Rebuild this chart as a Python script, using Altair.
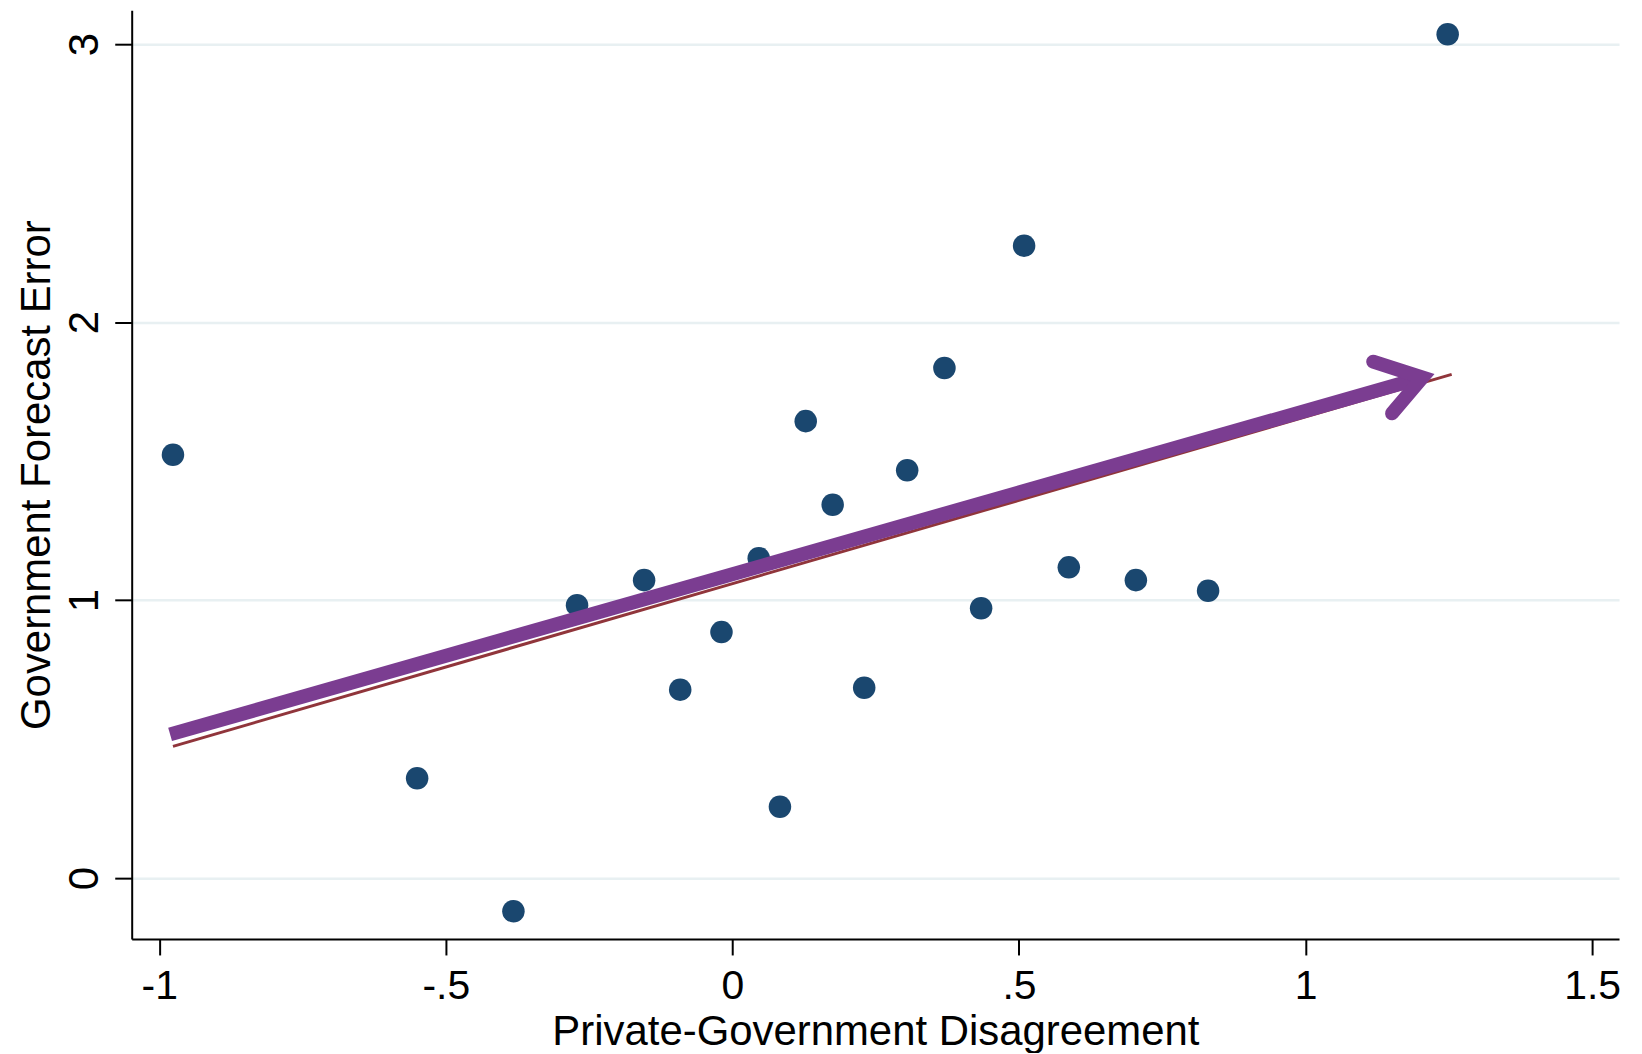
import altair as alt
import pandas as pd

# Scatter data
x_vals = [-0.976, -0.550, -0.382, -0.271, -0.154, -0.091, -0.019, 0.046, 0.083, 0.128,
          0.175, 0.230, 0.305, 0.370, 0.434, 0.509, 0.587, 0.704, 0.830, 1.248]
y_vals = [1.523, 0.359, -0.119, 0.982, 1.072, 0.678, 0.885, 1.151, 0.257, 1.644,
          1.343, 0.685, 1.467, 1.835, 0.971, 2.275, 1.118, 1.072, 1.034, 3.036]

# Fitted line endpoints
fit_x = [-0.976, 1.255]
fit_y = [0.474, 1.812]

# Arrow shaft and head (data units)
shaft_x = [-0.981, 1.204]
shaft_y = [0.517, 1.801]
head_x = [1.118, 1.204, 1.151]
head_y = [1.858, 1.801, 1.672]

x_ticks = [-1, -0.5, 0, 0.5, 1, 1.5]
y_ticks = [0, 1, 2, 3]

FONT = "Liberation Sans"
XDOM = [-1.048, 1.547]
YDOM = [-0.219, 3.122]

pts = pd.DataFrame({"x": x_vals, "y": y_vals})
fit = pd.DataFrame({"x": fit_x, "y": fit_y})
shaft = pd.DataFrame({"x": shaft_x, "y": shaft_y, "o": [0, 1]})
head = pd.DataFrame({"x": head_x, "y": head_y, "o": [0, 1, 2]})

xenc = alt.X("x:Q",
             scale=alt.Scale(domain=XDOM, zero=False, nice=False),
             axis=alt.Axis(values=x_ticks,
                           labelExpr="datum.value == 0 ? '0' : replace(toString(datum.value), '0.', '.')",
                           title="Private-Government Disagreement",
                           grid=False, domain=True, domainColor="black", domainWidth=2,
                           ticks=True, tickColor="black", tickWidth=2, tickSize=16,
                           labelFont=FONT, labelFontSize=41, labelColor="black",
                           labelBaseline="alphabetic", labelPadding=44, labelAlign="center",
                           titleFont=FONT, titleFontSize=42, titleFontWeight="normal",
                           titleColor="black", titleBaseline="alphabetic",
                           titleY=106, titleAnchor="middle"))
yenc = alt.Y("y:Q",
             scale=alt.Scale(domain=YDOM, zero=False, nice=False),
             axis=alt.Axis(values=y_ticks, format="d",
                           title="Government Forecast Error",
                           grid=True, gridColor="#e8f0f2", gridWidth=2.5,
                           domain=True, domainColor="black", domainWidth=2,
                           ticks=True, tickColor="black", tickWidth=2, tickSize=17,
                           labelFont=FONT, labelFontSize=42, labelColor="black",
                           labelAngle=270, labelAlign="center", labelBaseline="alphabetic",
                           labelPadding=17,
                           titleFont=FONT, titleFontSize=42, titleFontWeight="normal",
                           titleColor="black", titleAngle=270, titleAlign="center",
                           titleBaseline="alphabetic", titleX=-82, titleY=465.5))

points = alt.Chart(pts).mark_circle(size=510, opacity=1, color="#1a476f").encode(x=xenc, y=yenc)

fit_line = alt.Chart(fit).mark_line(color="#90353b", strokeWidth=3).encode(x="x:Q", y="y:Q")

shaft_line = alt.Chart(shaft).mark_line(color="#7b3d91", strokeWidth=14, strokeCap="butt").encode(
    x="x:Q", y="y:Q", order="o:Q")

head_line = alt.Chart(head).mark_line(color="#7b3d91", strokeWidth=14, strokeCap="round",
                                      strokeJoin="miter").encode(x="x:Q", y="y:Q", order="o:Q")

chart = alt.layer(points, fit_line, shaft_line, head_line).properties(
    width=1491, height=931,
    autosize=alt.AutoSizeParams(type="none"),
    padding={"left": 124, "top": 1, "right": 15, "bottom": 113},
    background="white",
).configure_view(stroke=None)

chart.save("out.html", embed_options={"renderer": "svg", "actions": False})
